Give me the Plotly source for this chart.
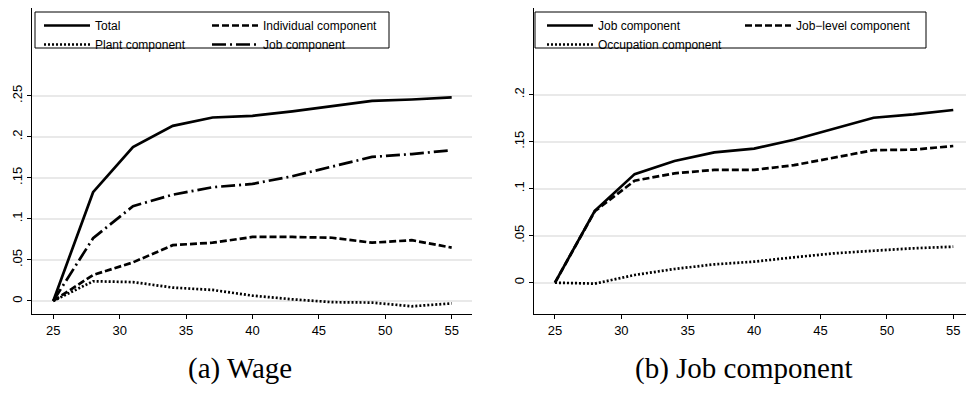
import plotly.graph_objects as go

ages = [25, 28, 31, 34, 37, 40, 43, 46, 49, 52, 55]

# Panel (a) Wage
total = [0, 0.1325, 0.1874, 0.2134, 0.2236, 0.2256, 0.2310, 0.2370, 0.2439, 0.2455, 0.2480]
individual = [0, 0.0317, 0.0470, 0.0680, 0.0710, 0.0780, 0.0780, 0.0770, 0.0710, 0.0740, 0.0650]
plant = [0, 0.0240, 0.0230, 0.0163, 0.0134, 0.0065, 0.0020, -0.0015, -0.0020, -0.0065, -0.0030]
job = [0, 0.0765, 0.1155, 0.1295, 0.1386, 0.1426, 0.1520, 0.1635, 0.1755, 0.1790, 0.1837]

# Panel (b) Job component
job_level = [0, 0.0760, 0.1085, 0.1163, 0.1200, 0.1200, 0.1250, 0.1330, 0.1410, 0.1415, 0.1454]
occupation = [0, -0.0010, 0.0082, 0.0146, 0.0195, 0.0224, 0.0270, 0.0312, 0.0340, 0.0366, 0.0383]

x_ticks = [25, 30, 35, 40, 45, 50, 55]
y_ticks_a = [0, 0.05, 0.10, 0.15, 0.20, 0.25]
y_labels_a = ["0", ".05", ".1", ".15", ".2", ".25"]
y_ticks_b = [0, 0.05, 0.10, 0.15, 0.20]
y_labels_b = ["0", ".05", ".1", ".15", ".2"]

captions = ["(a) Wage", "(b) Job component"]

LW = 2.7
DASH = "7px,3px"
DOT = "2px,2px"
DASHDOT = "14px,4px,2px,4px"

fig = go.Figure()

def add(xs, ys, name, dash, xa, ya, leg):
    fig.add_trace(go.Scatter(x=xs, y=ys, mode="lines", name=name,
                             line=dict(color="black", width=LW, dash=dash),
                             xaxis=xa, yaxis=ya, legend=leg))

add(ages, total, "Total", "solid", "x", "y", "legend")
add(ages, individual, "Individual component", DASH, "x", "y", "legend2")
add(ages, plant, "Plant component", DOT, "x", "y", "legend")
add(ages, job, "Job component", DASHDOT, "x", "y", "legend2")

add(ages, job, "Job component", "solid", "x2", "y2", "legend3")
add(ages, job_level, "Job\u2212level component", DASH, "x2", "y2", "legend4")
add(ages, occupation, "Occupation component", DOT, "x2", "y2", "legend3")

W, H = 966, 401
ybot = (H - 314) / H
ytop = (H - 8) / H

tickfont = dict(family="Liberation Sans, Arial, sans-serif", size=13, color="black")
common_x = dict(showline=True, linecolor="black", linewidth=1, ticks="outside",
                ticklen=4, tickcolor="black", showgrid=False, zeroline=False,
                tickvals=x_ticks, tickfont=tickfont, automargin=False)
common_y = dict(showline=True, linecolor="black", linewidth=1, ticks="outside",
                ticklen=4, tickcolor="black", showgrid=True, gridcolor="#e9e9e9",
                gridwidth=1.5, zeroline=False, tickangle=-90, tickfont=tickfont,
                automargin=False)

legfont = dict(family="Liberation Sans, Arial, sans-serif", size=12, color="black")

def leg(xpx):
    return dict(orientation="v", x=xpx / W, y=(H - 11) / H, xanchor="left", yanchor="top",
                borderwidth=0, bgcolor="rgba(0,0,0,0)", font=legfont,
                itemwidth=46, tracegroupgap=0, traceorder="normal")

fig.update_layout(
    width=W, height=H,
    margin=dict(l=0, r=0, t=0, b=0, autoexpand=False),
    paper_bgcolor="white", plot_bgcolor="white",
    xaxis=dict(domain=[32 / W, 472 / W], range=[23.4, 56.53], anchor="y", **common_x),
    yaxis=dict(domain=[ybot, ytop], range=[-0.0159, 0.357], anchor="x",
               tickvals=y_ticks_a, ticktext=y_labels_a, **common_y),
    xaxis2=dict(domain=[534 / W, 1.0], range=[23.42, 55.96], anchor="y2", **common_x),
    yaxis2=dict(domain=[ybot, ytop], range=[-0.0333, 0.2922], anchor="x2",
                tickvals=y_ticks_b, ticktext=y_labels_b, **common_y),
    legend=leg(39),
    legend2=leg(207),
    legend3=leg(542),
    legend4=leg(740),
    showlegend=True,
)

# legend frames
for x0, x1 in [(35, 389), (535, 926)]:
    fig.add_shape(type="rect", xref="paper", yref="paper",
                  x0=x0 / W, x1=x1 / W, y0=(H - 48) / H, y1=(H - 12) / H,
                  line=dict(color="black", width=1), fillcolor="rgba(0,0,0,0)", layer="above")

capfont = dict(family="Liberation Serif, Times New Roman, serif", size=29, color="black")
fig.add_annotation(text=captions[0], x=240 / W, y=(H - 368) / H, xref="paper", yref="paper",
                   showarrow=False, font=capfont, xanchor="center", yanchor="middle")
fig.add_annotation(text=captions[1], x=743 / W, y=(H - 368) / H, xref="paper", yref="paper",
                   showarrow=False, font=capfont, xanchor="center", yanchor="middle")

fig.write_html("out.html",
               config={"displayModeBar": False},
               post_script="document.body.style.margin='0px';document.body.style.padding='0px';")
